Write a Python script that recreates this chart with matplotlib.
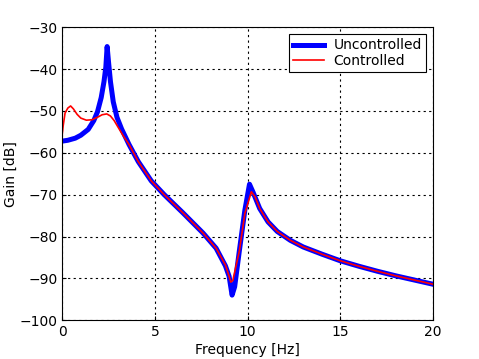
import numpy as np
import matplotlib
matplotlib.use("Agg")
import matplotlib.pyplot as plt

## values (Hz, dB)
freq_unc = [0, 0.3, 0.7, 1.0, 1.4, 1.7, 1.9, 2.1, 2.25, 2.35, 2.42, 2.5, 2.6, 2.75, 2.95,
            3.2, 3.6, 4.1, 4.8, 5.5, 6.5, 7.6, 8.3, 8.8, 9.0, 9.16, 9.3, 9.55, 9.85, 10.1,
            10.3, 10.65, 11.1, 11.6, 12.3, 13, 14, 15, 16, 17, 18, 19, 20]
gain_unc = [-57.2, -57.0, -56.5, -55.8, -54.4, -52.3, -50.2, -46.8, -43.0, -39.5, -34.6, -38.5,
            -43.0, -47.8, -51.5, -54.3, -58.0, -62.1, -66.7, -70.0, -74.3, -79.2, -82.8, -87.0,
            -89.5, -94.0, -92.0, -83.5, -73.7, -67.5, -69.5, -73.3, -76.5, -78.8, -80.9, -82.5,
            -84.2, -85.8, -87.1, -88.3, -89.4, -90.4, -91.4]

freq_ctl = [0, 0.05, 0.15, 0.3, 0.45, 0.6, 0.8, 1.0, 1.3, 1.6, 1.9, 2.15, 2.4, 2.6, 2.8, 3.0,
            3.3, 3.6, 4.1, 4.8, 5.5, 6.5, 7.6, 8.3, 8.8, 9.0, 9.09, 9.2, 9.55, 9.85, 10.2,
            10.4, 10.65, 11.1, 11.6, 12.3, 13, 14, 15, 16, 17, 18, 19, 20]
gain_ctl = [-55.5, -53.5, -50.5, -49.3, -48.8, -49.5, -50.8, -51.7, -52.2, -52.1, -51.5, -50.9,
            -50.7, -51.2, -52.3, -53.8, -56.0, -58.0, -62.1, -66.7, -70.0, -74.3, -79.2, -82.8,
            -86.8, -89.5, -90.9, -90.5, -83.5, -74.5, -69.3, -70.5, -73.3, -76.5, -78.8, -80.9,
            -82.5, -84.2, -85.8, -87.1, -88.3, -89.4, -90.4, -91.4]

fig = plt.figure(figsize=(4.79, 3.59), dpi=100)
ax = fig.add_axes([0.13, 0.108, 0.774, 0.816])

ax.plot(freq_unc, gain_unc, color=(0, 0, 1), lw=3.6, label="Uncontrolled")
ax.plot(freq_ctl, gain_ctl, color=(1, 0, 0), lw=1.2, label="Controlled")

ax.set_xlim(0, 20)
ax.set_ylim(-100, -30)
ax.set_xticks([0, 5, 10, 15, 20])
ax.set_yticks(np.arange(-100, -29, 10))
ax.grid(True, color="black", linestyle=(0, (2, 3)), linewidth=0.8)
ax.tick_params(direction="in", labelsize=10, length=3)
ax.set_xlabel("Frequency [Hz]", fontsize=10, labelpad=3)
ax.set_ylabel("Gain [dB]", fontsize=10, labelpad=1)

leg = ax.legend(loc="upper right", fontsize=10, fancybox=False, framealpha=1,
                edgecolor="black", handlelength=2.2, handletextpad=0.7, borderpad=0.3,
                labelspacing=0.1, borderaxespad=0.5)
leg.get_frame().set_linewidth(0.8)

fig.savefig("out.png", dpi=100)
